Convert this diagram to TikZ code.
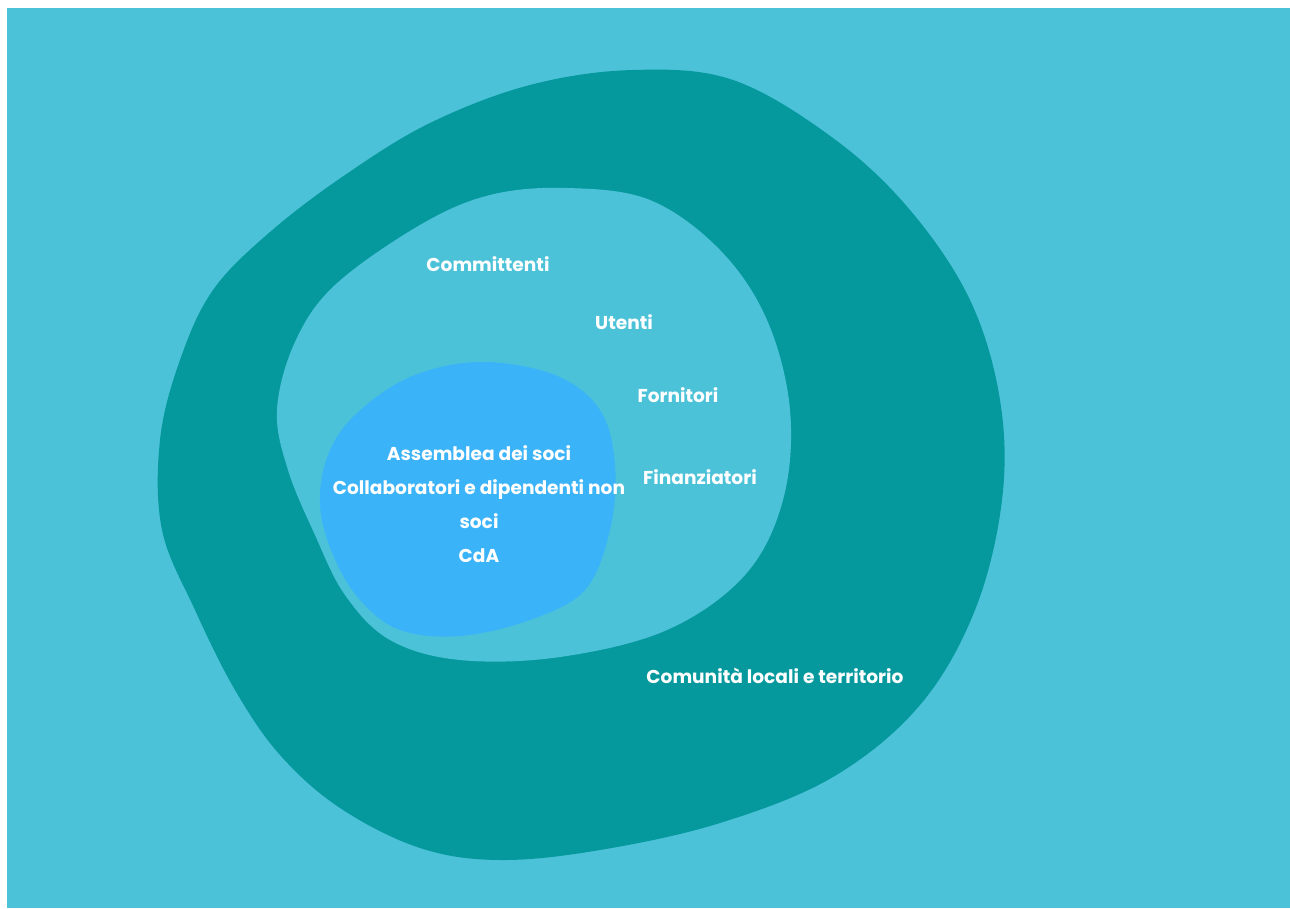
\documentclass[tikz,border=0pt]{standalone}
\usepackage{fontspec}
\setmainfont{Poppins}
\definecolor{skybg}{HTML}{4CC2D9}
\definecolor{tealring}{HTML}{05999E}
\definecolor{corecol}{HTML}{3AB3F8}
\begin{document}
\begin{tikzpicture}[x=1pt,y=-1pt,
    lbl/.style={text=white,font=\fontsize{18.6}{34}\selectfont\bfseries,inner sep=0pt,align=center}]
  \useasboundingbox (0,0) rectangle (1290,908);
  \fill[white] (0,0) rectangle (1290,908);
  \fill[skybg] (7,8) rectangle (1290,908);
  % outer ring
  \fill[tealring] plot[smooth cycle,tension=0.6] coordinates {(633,70) (733,80) (833,138) (910,210) (970,300) (1000,400) (1002,500) (975,610) (920,705) (833,777) (720,823) (600,850) (500,860) (420,848) (340,808) (280,755) (235,690) (195,610) (162,530) (160,440) (180,360) (213,290) (270,232) (345,175) (430,123) (530,85)};
  % middle area
  \fill[skybg] plot[smooth cycle,tension=0.6] coordinates {(567,188) (650,200) (720,250) (767,320) (790,410) (783,500) (745,575) (667,630) (560,657) (460,660) (390,640) (345,595) (315,535) (288,470) (277,410) (295,342) (335,285) (420,225) (490,195)};
  % inner core
  \fill[corecol] plot[smooth cycle,tension=0.6] coordinates {(480,362) (555,375) (600,410) (615,465) (610,530) (585,590) (530,620) (460,636) (400,630) (360,600) (333,555) (320,505) (328,455) (355,415) (410,377)};
  % labels
  \node[lbl] (comm) at (488,264) {Committenti};
  \node[lbl] (uten) at (624,322) {Utenti};
  \node[lbl] (forn) at (678,395) {Fornitori};
  \node[lbl] (fin) at (700,477) {Finanziatori};
  \node[lbl] (core) at (479,504) {Assemblea dei soci\\Collaboratori e dipendenti non\\soci\\CdA};
  \node[lbl] (terr) at (775,676) {Comunità locali e territorio};
\end{tikzpicture}
\end{document}
